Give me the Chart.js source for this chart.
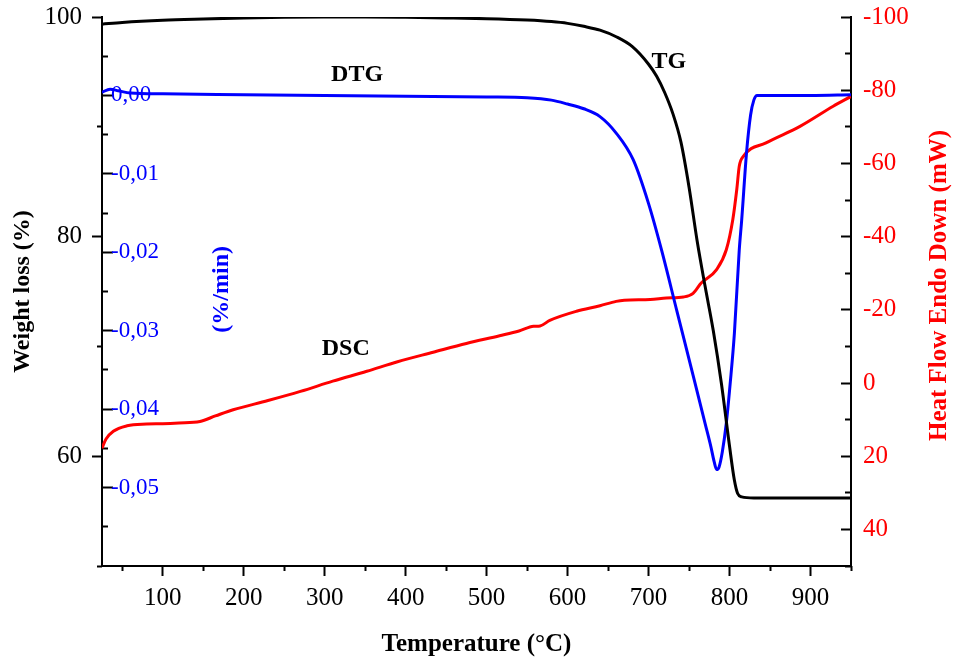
<!DOCTYPE html>
<html>
<head>
<meta charset="utf-8">
<script src="https://cdn.jsdelivr.net/npm/chart.js@4.4.1/dist/chart.umd.min.js"></script>
<style>
  body { margin: 0; background: #fff; }
  #wrap { width: 956px; height: 662px; }
</style>
</head>
<body>
<div id="wrap"><canvas id="taChart"></canvas></div>
<script>
'use strict'

//TG curve - weight loss (%)
const tgTemp   = [25, 50, 100, 150, 200, 250, 300, 350, 400, 450, 500, 550, 580, 600, 620, 640, 660, 680, 700, 710, 720, 730, 740, 750, 760, 770, 780, 790, 800, 806, 810, 815, 830, 880, 950];
const tgWeight = [99.35, 99.5, 99.7, 99.82, 99.92, 99.98, 100, 100, 99.97, 99.92, 99.85, 99.72, 99.58, 99.42, 99.15, 98.8, 98.2, 97.3, 95.7, 94.6, 93.1, 91.2, 88.6, 84.5, 79.6, 75.4, 71.4, 66.6, 60.9, 57.8, 56.6, 56.3, 56.2, 56.2, 56.2];

//DTG curve (%/min)
const dtgTemp = [25, 35, 45, 60, 100, 200, 300, 400, 500, 550, 580, 600, 620, 640, 660, 681, 700, 716, 735, 755, 770, 777, 781, 784, 787, 791, 796, 801, 806, 812, 815, 821, 826, 830, 834, 850, 900, 950];
const dtgRate = [0.0004, 0.0008, 0.0006, 0.0003, 0.0002, 0.0001, 0.0000, -0.0001, -0.0002, -0.0003, -0.0006, -0.0011, -0.0017, -0.0027, -0.0048, -0.0082, -0.0138, -0.0197, -0.0275, -0.0357, -0.0419, -0.0448, -0.0467, -0.0477, -0.0474, -0.0455, -0.0418, -0.0365, -0.0303, -0.0197, -0.0159, -0.0073, -0.0025, -0.0006, 0.0000, 0.0000, 0.0000, 0.0001];

//DSC curve - heat flow (mW)
const dscTemp = [25, 30, 39, 56, 80, 100, 120, 146, 165, 187, 230, 270, 310, 352, 390, 434, 475, 516, 540, 558, 566, 578, 611, 640, 660, 670, 702, 722, 743, 755, 765, 784, 796, 804, 809, 812, 817, 845, 887, 928, 950];
const dscHeat = [17.8, 15.3, 13.2, 11.7, 11.2, 11.1, 10.9, 10.5, 9.0, 7.3, 4.8, 2.3, -0.5, -3.2, -5.8, -8.4, -10.8, -12.9, -14.2, -15.5, -15.6, -17.1, -19.6, -21.1, -22.3, -22.6, -22.8, -23.2, -23.5, -24.5, -27.3, -31.0, -36.4, -44.6, -53.0, -59.2, -61.9, -65.6, -70.1, -75.6, -78.3];

//tick values
const tempTicks = [100, 200, 300, 400, 500, 600, 700, 800, 900];
const tempMinorTicks = [50, 150, 250, 350, 450, 550, 650, 750, 850, 950];
const weightTicks = [60, 80, 100];
const weightMinorTicks = [50, 70, 90];
const rateTicks = [0, -0.01, -0.02, -0.03, -0.04, -0.05];
const rateMinorTicks = [0.005, -0.005, -0.015, -0.025, -0.035, -0.045, -0.055];
const heatTicks = [-100, -80, -60, -40, -20, 0, 20, 40];
const heatMinorTicks = [-90, -70, -50, -30, -10, 10, 30, 50];

const serif = "'Liberation Serif', 'Times New Roman', serif";
Chart.defaults.font.family = serif;
Chart.defaults.color = '#000';

function toPoints(xs, ys){
  return xs.map(function(x, i){ return {x: x, y: ys[i]}; });
}

function fixTicks(values){
  return function(scale){
    scale.ticks = values.map(function(v){ return {value: v}; });
  };
}

function fixSize(size){
  return function(scale){
    if (scale.isHorizontal()) scale.height = size; else scale.width = size;
    scale.paddingLeft = 0; scale.paddingRight = 0;
    scale.paddingTop = 0; scale.paddingBottom = 0;
  };
}

//axis that only carries extra (minor) tick marks
function tickAxis(position, min, max, values, length, extra){
  return Object.assign({
    type: 'linear', position: position, min: min, max: max, weight: 0,
    border: {display: false},
    grid: {drawOnChartArea: false, tickLength: length, tickWidth: 2, tickColor: '#000'},
    ticks: {display: false},
    afterBuildTicks: fixTicks(values),
    afterFit: fixSize(0)
  }, extra || {});
}

//curve names and rotated titles
const notesPlugin = {
  id: 'notes',
  afterDatasetsDraw(chart){
    const ctx = chart.ctx;
    const x = chart.scales.x;
    const yW = chart.scales.yW;
    const area = chart.chartArea;
    ctx.save();
    ctx.textAlign = 'center';
    ctx.textBaseline = 'middle';
    ctx.fillStyle = '#000';
    ctx.font = 'bold 24px ' + serif;
    [['DTG', 340, 94.75], ['TG', 725, 95.9], ['DSC', 326, 69.8]].forEach(function(n){
      ctx.fillText(n[0], x.getPixelForValue(n[1]), yW.getPixelForValue(n[2]));
    });

    ctx.save();
    ctx.translate(x.getPixelForValue(173), yW.getPixelForValue(75.2));
    ctx.rotate(-Math.PI / 2);
    ctx.fillStyle = '#0000ff';
    ctx.fillText('(%/min)', 0, 0);
    ctx.restore();

    ctx.save();
    ctx.translate(chart.scales.yH.right - 16, (area.top + area.bottom) / 2 - 6);
    ctx.rotate(-Math.PI / 2);
    ctx.fillStyle = '#ff0000';
    ctx.font = 'bold 25px ' + serif;
    ctx.fillText('Heat Flow Endo Down (mW)', 0, 0);
    ctx.restore();

    ctx.restore();
  }
};

const ctx = document.getElementById('taChart').getContext('2d');
const taChart = new Chart(ctx, {
  type: 'line',
  data: {
    datasets: [
      {label: 'TG', data: toPoints(tgTemp, tgWeight), xAxisID: 'x', yAxisID: 'yW',
       borderColor: '#000000', cubicInterpolationMode: 'monotone'},
      {label: 'DTG', data: toPoints(dtgTemp, dtgRate), xAxisID: 'x', yAxisID: 'yR',
       borderColor: '#0000ff', cubicInterpolationMode: 'monotone'},
      {label: 'DSC', data: toPoints(dscTemp, dscHeat), xAxisID: 'x', yAxisID: 'yH',
       borderColor: '#ff0000', cubicInterpolationMode: 'monotone'}
    ]
  },
  options: {
    responsive: true,
    maintainAspectRatio: false,
    animation: false,
    events: [],
    layout: {padding: {top: 17, left: 0, right: 0, bottom: 0}},
    elements: {
      point: {radius: 0},
      line: {borderWidth: 3, fill: false}
    },
    plugins: {legend: {display: false}, tooltip: {enabled: false}},
    scales: {
      x: {
        type: 'linear', position: 'bottom', min: 25, max: 950, weight: 1,
        border: {color: '#000', width: 2},
        grid: {drawOnChartArea: false, tickLength: 10, tickWidth: 2, tickColor: '#000'},
        ticks: {color: '#000', font: {size: 25}, padding: 7, maxRotation: 0, autoSkip: false},
        title: {display: true, text: 'Temperature (\u00B0C)', color: '#000',
                font: {size: 25, weight: 'bold'}, padding: {top: 0, bottom: 2}},
        afterBuildTicks: fixTicks(tempTicks),
        afterFit: fixSize(96)
      },
      xMinor: tickAxis('bottom', 25, 950, tempMinorTicks, 5),
      yW: {
        type: 'linear', position: 'left', min: 50, max: 100, weight: 1,
        border: {color: '#000', width: 2},
        grid: {drawOnChartArea: false, tickLength: 10, tickWidth: 2, tickColor: '#000'},
        ticks: {color: '#000', font: {size: 25}, padding: 10, autoSkip: false},
        title: {display: true, text: 'Weight loss (%)', color: '#000',
                font: {size: 24, weight: 'bold'}, padding: {top: 8, bottom: 0}},
        afterBuildTicks: fixTicks(weightTicks),
        afterFit: fixSize(102)
      },
      yWMinor: tickAxis('left', 50, 100, weightMinorTicks, 5),
      yR: {
        type: 'linear', position: 'left', min: -0.06, max: 0.01, weight: 0,
        border: {display: false},
        grid: {drawOnChartArea: false, tickLength: -11, tickWidth: 2, tickColor: '#000'},
        ticks: {color: '#0000ff', font: {size: 23}, mirror: true, padding: 9, autoSkip: false,
                callback: function(v){ return v.toFixed(2).replace('.', ','); }},
        afterBuildTicks: fixTicks(rateTicks),
        afterFit: fixSize(0)
      },
      yRMinor: tickAxis('left', -0.06, 0.01, rateMinorTicks, -6),
      yH: {
        type: 'linear', position: 'right', min: -100, max: 50, reverse: true, weight: 1,
        border: {color: '#000', width: 2},
        grid: {drawOnChartArea: false, tickLength: -10, tickWidth: 2, tickColor: '#000'},
        ticks: {color: '#ff0000', font: {size: 25}, padding: 22, autoSkip: false},
        afterBuildTicks: fixTicks(heatTicks),
        afterFit: fixSize(105)
      },
      yHMinor: tickAxis('right', -100, 50, heatMinorTicks, -6, {reverse: true})
    }
  },
  plugins: [notesPlugin]
});
</script>
</body>
</html>
